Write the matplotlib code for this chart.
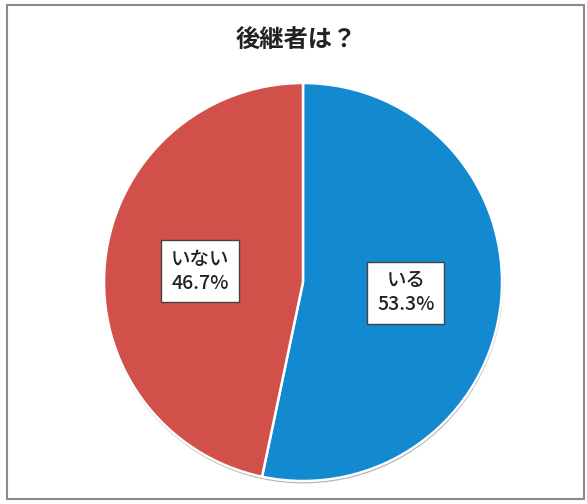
import matplotlib.pyplot as plt
import numpy as np
from matplotlib.patches import Rectangle, Circle

plt.rcParams['font.family'] = ['Noto Sans CJK JP', 'DejaVu Sans']

labels = ['いる', 'いない']
shares = [53.3, 46.7]
colors = ['#1389D0', '#D2504A']
title = '後継者は？'

fig = plt.figure(figsize=(5.87, 5.04), dpi=100)
ax = fig.add_axes([0, 0, 1, 1])

cx, cy, r = 303, 222, 199

# faint shadow under the pie
ax.add_patch(Circle((cx + 0.5, cy - 1.8), r, color='#8a8a8a', alpha=0.5, zorder=1))

wedges, _ = ax.pie(shares, colors=colors, startangle=90, counterclock=False,
                   center=(cx, cy), radius=r, frame=True,
                   wedgeprops=dict(edgecolor='white', linewidth=1.8, zorder=2))
ax.set_xlim(0, 587)
ax.set_ylim(0, 504)
ax.set_aspect('equal')
ax.axis('off')

for w, lab, val in zip(wedges, labels, shares):
    mid = np.deg2rad((w.theta1 + w.theta2) / 2)
    x = cx + 0.52 * r * np.cos(mid)
    y = cy + 0.52 * r * np.sin(mid)
    ax.text(x, y, f'{lab}\n{val:.1f}%', ha='center', va='center', fontsize=14,
            fontweight='medium', color='#222222', linespacing=1.3, zorder=5,
            bbox=dict(boxstyle='square,pad=0.5', facecolor='white',
                      edgecolor='#444444', linewidth=1.0))

ax.text(296, 463, title, ha='center', va='center', fontsize=17.5,
        fontweight='bold', color='#222222')

# chart area border
ax.add_patch(Rectangle((7, 5), 577, 494, fill=False, edgecolor='#8a8a8a',
                       linewidth=1.5, zorder=6))

fig.savefig('out.png', dpi=100)
